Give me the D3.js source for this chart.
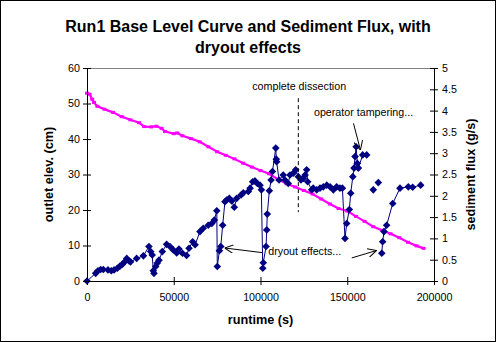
<!DOCTYPE html>
<html><head><meta charset="utf-8">
<script src="https://cdn.jsdelivr.net/npm/d3@7"></script>
<style>
body{margin:0;background:#fff}
svg{display:block}
text{font-family:Arial,"Liberation Sans",sans-serif;fill:#000}
</style>
</head><body>
<svg id="c" width="496" height="342"></svg>
<script>
// ---- data ----
const chartTitle = ["Run1 Base Level Curve and Sediment Flux, with", "dryout effects"];
const xTitle = "runtime (s)";
const yLeftTitle = "outlet elev. (cm)";
const yRightTitle = "sediment flux (g/s)";

const xTicks = [0, 50000, 100000, 150000, 200000];
const leftTicks = [0, 10, 20, 30, 40, 50, 60];
const rightTicks = [0, 0.5, 1, 1.5, 2, 2.5, 3, 3.5, 4, 4.5, 5];

// base level (outlet elevation, cm)
const baseTime  = [0, 1500, 3000, 4000, 6000, 10000, 15000, 20000, 25000, 30000, 33000, 37000, 40000, 43000, 45000, 50000, 52000, 55000, 60000, 65000, 70000, 75000, 80000, 85000, 90000, 95000, 100000, 105000, 110000, 115000, 120000, 125000, 130000, 135000, 140000, 145000, 150000, 155000, 160000, 165000, 170000, 175000, 180000, 185000, 190000, 194000];
const baseLevel = [52.9, 52.6, 51.2, 50.3, 49.2, 48.4, 47.5, 46.3, 45.4, 44.6, 43.5, 43.4, 43.6, 43.0, 42.1, 41.5, 41.7, 40.9, 40.1, 39.2, 37.8, 36.4, 35.4, 34.4, 33.2, 32.1, 31.1, 30.2, 28.7, 27.4, 26.5, 25.5, 24.5, 23.1, 21.7, 20.4, 19.7, 18.2, 16.8, 15.3, 14.3, 13.3, 12.2, 10.9, 9.9, 9.2];

// sediment flux (g/s); null = gap
const fluxTime = [0, 5000, 6300, 7900, 9400, 12100, 14000, 15600, 17500, 19000, 20300, 21700, 22900, 24200, 25100, 28600, 32500, 35700, 36700, 37600, 38200, 38600, 39600, 40500, 41500, 43400, 45900, 47800, 49700, 51700, 53000, 55000, 57400, 58800, 60900, 62300, 65100, 67000, 69900, 71900, 73400, 74800,
  75100, 76300, 77100, 78200, 79500, 80500, 82000, 83400, 84900, 86300, 88800, 90100, 93000, 94000, 95500, 96800, 98200, 99700, 100500,
  101300, 101600, 103200, 103600, 103900, 105100, 106100, 106900, 108800, 109100, 109300, 110700, 113100, 114100, 116000, 117000, 118900, 120300, 121800, 123300, 124700, 125700, 126600, 127200, 129500, 130400, 132400, 134300, 136200, 138200, 140100, 142000, 143900, 145800, 147200,
  148700, 149700, 151200, 152000, 153200, 153900, 154500, 155100, 155800, 156400, 158900, 161200,
  null, 165000, null, 167900, null,
  169900, 170400, 171200, 172700, 176200, 180400, 185200, 187700, 192300];
const fluxValue = [0, 0.18, 0.24, 0.27, 0.27, 0.26, 0.24, 0.26, 0.30, 0.35, 0.39, 0.45, 0.53, 0.47, 0.45, 0.53, 0.59, 0.81, 0.69, 0.61, 0.24, 0.18, 0.34, 0.42, 0.49, 0.69, 0.86, 0.81, 0.73, 0.66, 0.75, 0.65, 0.60, 0.77, 0.92, 0.85, 1.16, 1.24, 1.31, 1.35, 1.43, 1.65,
  0.34, 0.71, 0.81, 1.31, 1.86, 1.90, 1.94, 1.88, 1.73, 1.94, 2.02, 2.07, 2.10, 2.18, 2.33, 2.35, 2.29, 2.25, 2.14,
  0.30, 0.43, 0.81, 1.20, 1.57, 2.12, 2.37, 2.57, 3.12, 2.86, 2.80, 2.37, 2.49, 2.37, 2.29, 2.49, 2.53, 2.61, 2.45, 2.37, 2.41, 2.49, 2.61, 2.33, 2.14, 2.18, 2.14, 2.18, 2.21, 2.25, 2.21, 2.14, 2.21, 2.18, 2.18,
  1.00, 1.35, 1.68, 2.06, 2.45, 2.65, 2.92, 3.15, 2.76, 2.65, 2.96, 2.96,
  null, 2.14, null, 2.31, null,
  0.65, 0.92, 1.16, 1.31, 1.82, 2.18, 2.21, 2.20, 2.25];

// annotations (data units: runtime, outlet elev.)
const dissection = {t: 121800, top: 51.5, bottom: 19.4, label: "complete dissection", labelT: 122300, labelY: 53.8};
const annoTexts = [
  {text: "operator tampering...", t: 130800, y: 46.5},
  {text: "dryout effects...", t: 104500, y: 7.3}
];
const arrows = [
  {t1: 153600, y1: 44.4, t2: 157600, y2: 36.9},
  {t1: 100900, y1: 8.0, t2: 79300, y2: 9.3},
  {t1: 152600, y1: 6.5, t2: 166900, y2: 8.6}
];

// ---- chart ----
const W = 496, H = 342;
const svg = d3.select("#c");
const L = 87, R = 434, T = 68, B = 281;

const x = d3.scaleLinear().domain([0, 200000]).range([L, R]);
const yL = d3.scaleLinear().domain([0, 60]).range([B, T]);
const yR = d3.scaleLinear().domain([0, 5]).range([B, T]);

svg.append("rect").attr("x", 0.5).attr("y", 0.5).attr("width", W - 1).attr("height", H - 1)
  .attr("fill", "#fff").attr("stroke", "#000");

// plot area border
svg.append("rect").attr("x", L + 0.5).attr("y", T + 0.5).attr("width", R - L).attr("height", B - T)
  .attr("fill", "none").attr("stroke", "#808080");

// title
svg.append("text").attr("x", 248).attr("text-anchor", "middle")
  .style("font-size", "16px").style("font-weight", "bold")
  .selectAll("tspan").data(chartTitle).join("tspan")
  .attr("x", 248).attr("y", (d, i) => 31.5 + i * 21).text(d => d);

// base level line
const baseData = baseTime.map((t, i) => ({t, v: baseLevel[i]}));
svg.append("path").datum(baseData)
  .attr("fill", "none").attr("stroke", "#ff00ff").attr("stroke-width", 2.2)
  .attr("d", d3.line().x(d => x(d.t)).y(d => yL(d.v)));
svg.append("g").selectAll("rect").data(baseData).join("rect")
  .attr("x", d => x(d.t) - 2).attr("y", d => yL(d.v) - 1.5).attr("width", 4).attr("height", 3)
  .attr("fill", "#ff00ff");

// flux line & markers
const fluxData = fluxTime.map((t, i) => ({t, v: fluxValue[i]}));
svg.append("path").datum(fluxData)
  .attr("fill", "none").attr("stroke", "#000080").attr("stroke-width", 1)
  .attr("d", d3.line().defined(d => d.v != null).x(d => x(d.t)).y(d => yR(d.v)));
const dm = 3.8;
svg.append("g").selectAll("path").data(fluxData.filter(d => d.v != null)).join("path")
  .attr("transform", d => `translate(${x(d.t)},${yR(d.v)})`)
  .attr("d", `M0,${-dm}L${dm},0L0,${dm}L${-dm},0Z`)
  .attr("fill", "#000080");

// axes
function styleAxis(g) {
  g.select(".domain").attr("stroke", "#000");
  g.selectAll(".tick line").attr("stroke", "#000");
  g.selectAll("text").style("font-size", "10.7px").style("font-family", "Arial, 'Liberation Sans', sans-serif");
}
const gx = svg.append("g").attr("transform", `translate(0,${B})`)
  .call(d3.axisBottom(x).tickValues(xTicks).tickFormat(d3.format("d")).tickSizeInner(4).tickSizeOuter(0).tickPadding(8));
gx.selectAll(".tick line").attr("y1", -4);
styleAxis(gx);

const gl = svg.append("g").attr("transform", `translate(${L},0)`)
  .call(d3.axisLeft(yL).tickValues(leftTicks).tickFormat(d3.format("d")).tickSizeInner(4).tickSizeOuter(0).tickPadding(3));
gl.selectAll(".tick line").attr("x1", 4);
styleAxis(gl);

const gr = svg.append("g").attr("transform", `translate(${R},0)`)
  .call(d3.axisRight(yR).tickValues(rightTicks).tickFormat(d => String(d)).tickSizeInner(4).tickSizeOuter(0).tickPadding(4));
gr.selectAll(".tick line").attr("x1", -4);
styleAxis(gr);

// axis titles
svg.append("text").attr("x", x(100000)).attr("y", 324).attr("text-anchor", "middle")
  .style("font-size", "12.7px").style("font-weight", "bold").text(xTitle);
svg.append("text").attr("transform", `translate(53,${(T + B) / 2}) rotate(-90)`).attr("text-anchor", "middle")
  .style("font-size", "12.7px").style("font-weight", "bold").text(yLeftTitle);
svg.append("text").attr("transform", `translate(475,${(T + B) / 2}) rotate(-90)`).attr("text-anchor", "middle")
  .style("font-size", "12.7px").style("font-weight", "bold").text(yRightTitle);

// annotations
svg.append("line").attr("x1", x(dissection.t)).attr("x2", x(dissection.t))
  .attr("y1", yL(dissection.top)).attr("y2", yL(dissection.bottom))
  .attr("stroke", "#000").attr("stroke-dasharray", "4,3");
svg.append("text").attr("x", x(dissection.labelT)).attr("y", yL(dissection.labelY)).attr("text-anchor", "middle")
  .style("font-size", "10.7px").text(dissection.label);
svg.selectAll(".anno").data(annoTexts).join("text").attr("class", "anno")
  .attr("x", d => x(d.t)).attr("y", d => yL(d.y)).style("font-size", "10.7px").text(d => d.text);

svg.append("defs").append("marker").attr("id", "arr")
  .attr("viewBox", "0 0 10 10").attr("refX", 10).attr("refY", 5)
  .attr("markerWidth", 9).attr("markerHeight", 9).attr("markerUnits", "userSpaceOnUse")
  .attr("orient", "auto")
  .append("path").attr("d", "M0,0L10,5L0,10").attr("fill", "none").attr("stroke", "#000").attr("stroke-width", 1.1);
svg.selectAll(".arrow").data(arrows).join("line").attr("class", "arrow")
  .attr("x1", d => x(d.t1)).attr("y1", d => yL(d.y1)).attr("x2", d => x(d.t2)).attr("y2", d => yL(d.y2))
  .attr("stroke", "#000").attr("stroke-width", 1).attr("marker-end", "url(#arr)");
</script>
</body></html>
